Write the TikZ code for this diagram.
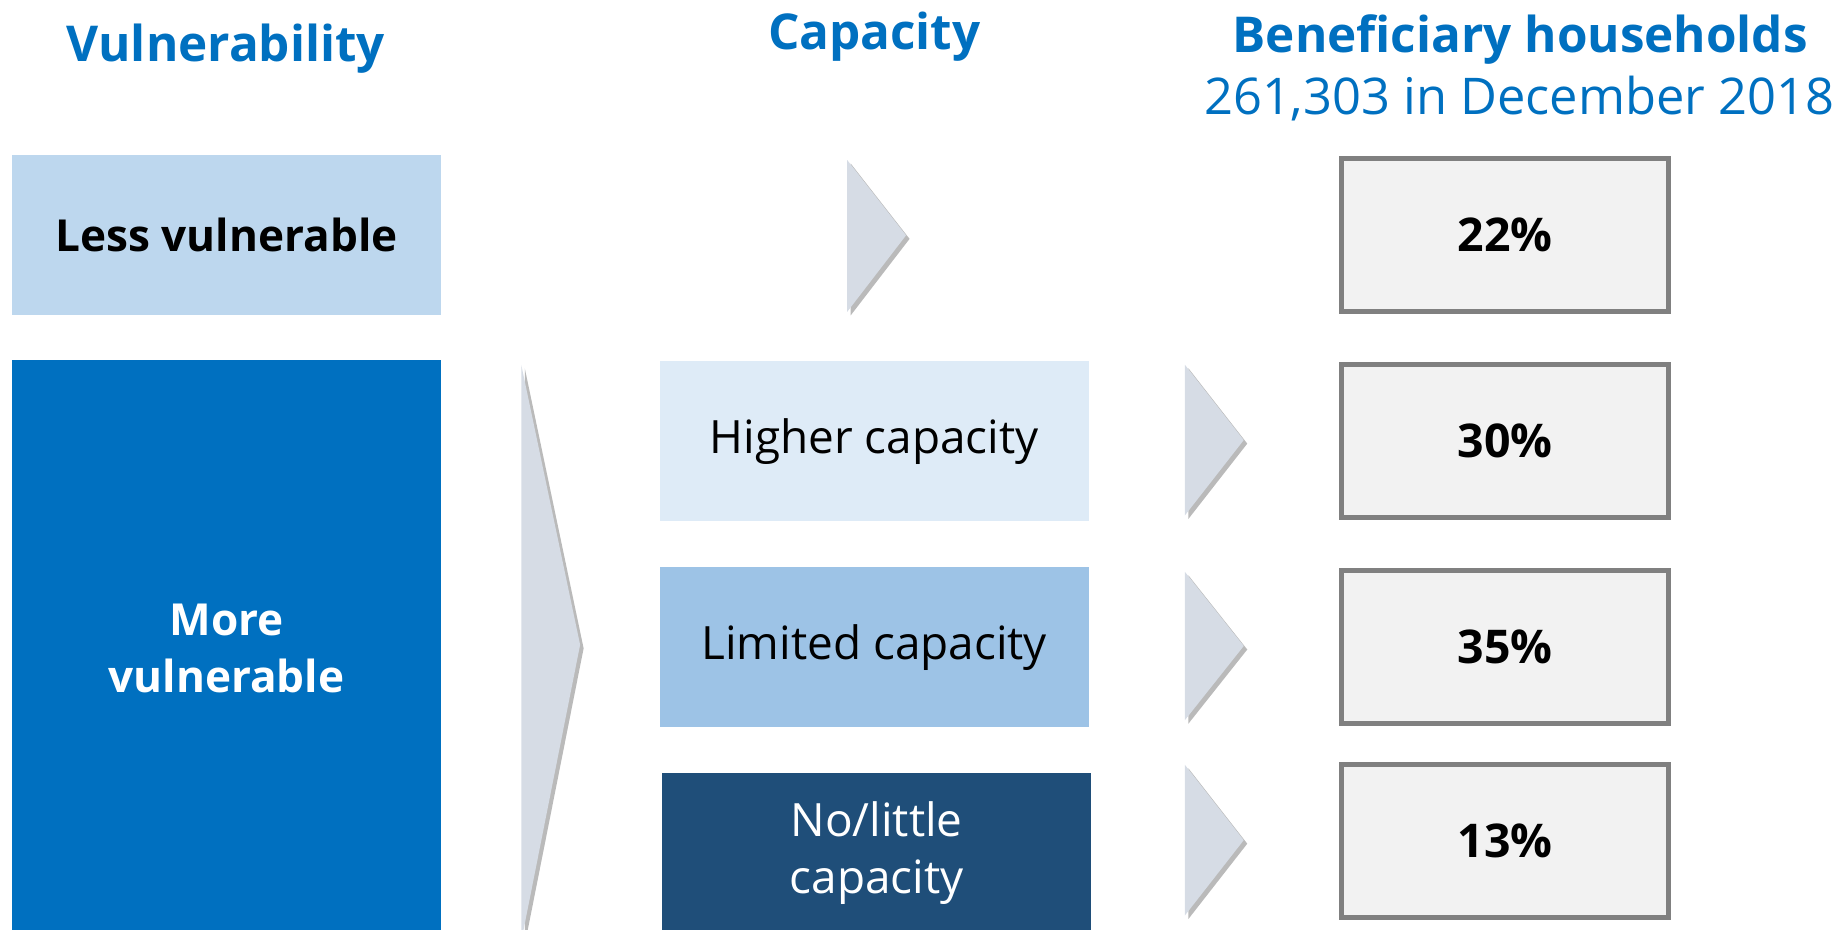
\documentclass[tikz,border=0pt]{standalone}
\usepackage{fontspec}
\setmainfont{Open Sans}
\usetikzlibrary{shadows}
\definecolor{titleblue}{HTML}{0070C0}
\definecolor{lessfill}{HTML}{BDD7EE}
\definecolor{morefill}{HTML}{0070C0}
\definecolor{higherfill}{HTML}{DEEBF7}
\definecolor{limitedfill}{HTML}{9DC3E6}
\definecolor{nolittlefill}{HTML}{1F4E79}
\definecolor{chevfill}{HTML}{D6DCE5}
\definecolor{pctborder}{HTML}{808080}
\definecolor{pctfill}{HTML}{F2F2F2}
\tikzset{
  titletext/.style={text=titleblue, font=\fontsize{42}{48}\selectfont\bfseries, anchor=base, inner sep=0pt},
  subtitletext/.style={text=titleblue, font=\fontsize{43}{48}\selectfont, anchor=base, inner sep=0pt},
  catbox/.style={draw=none, minimum width=365pt, minimum height=136pt, inner sep=0pt, align=center, font=\fontsize{39}{48}\selectfont},
  vulbox/.style={catbox, font=\fontsize{37.5}{48}\selectfont\bfseries},
  pctbox/.style={draw=pctborder, line width=4pt, fill=pctfill, minimum width=278pt, minimum height=130pt, inner sep=0pt, font=\fontsize{39.5}{44}\selectfont\bfseries},
  chevron/.style={fill=chevfill, drop shadow={shadow xshift=3pt, shadow yshift=-3pt, opacity=0.45, fill=black!60}}
}
\begin{document}
\begin{tikzpicture}[x=1pt,y=-1pt]
\useasboundingbox (0,0) rectangle (1568,790);
\begin{scope}
\clip (0,0) rectangle (1568,790);
% titles
\node[titletext] (tvul) at (192,52) {Vulnerability};
\node[titletext] (tcap) at (743,42) {Capacity};
\node[titletext] (tben) at (1292,45) {Beneficiary households};
\node[subtitletext] (tsub) at (1291,97) {261,303 in December 2018};
% vulnerability boxes
\node[vulbox, fill=lessfill] (less) at (192.5,200) {Less vulnerable};
\node[vulbox, fill=morefill, text=white, minimum height=490pt] (more) at (192.5,551) {More\\vulnerable};
% chevrons
\fill[chevron] (720,136) -- (770,200) -- (720,265) -- cycle;
\fill[chevron] (443,310) -- (493,548) -- (443,800) -- cycle;
\fill[chevron] (1007,310) -- (1057,374) -- (1007,438) -- cycle;
\fill[chevron] (1007,486) -- (1057,549) -- (1007,612) -- cycle;
\fill[chevron] (1007,650) -- (1057,714) -- (1007,778) -- cycle;
% capacity boxes
\node[catbox, fill=higherfill] (higher) at (743,375) {Higher capacity};
\node[catbox, fill=limitedfill] (limited) at (743,550) {Limited capacity};
\node[catbox, fill=nolittlefill, text=white] (nolittle) at (745,725) {No/little\\capacity};
% percentage boxes
\node[pctbox] (p22) at (1279,200) {22\%};
\node[pctbox] (p30) at (1279,375) {30\%};
\node[pctbox] (p35) at (1279,550) {35\%};
\node[pctbox] (p13) at (1279,715) {13\%};
\end{scope}
\end{tikzpicture}
\end{document}
